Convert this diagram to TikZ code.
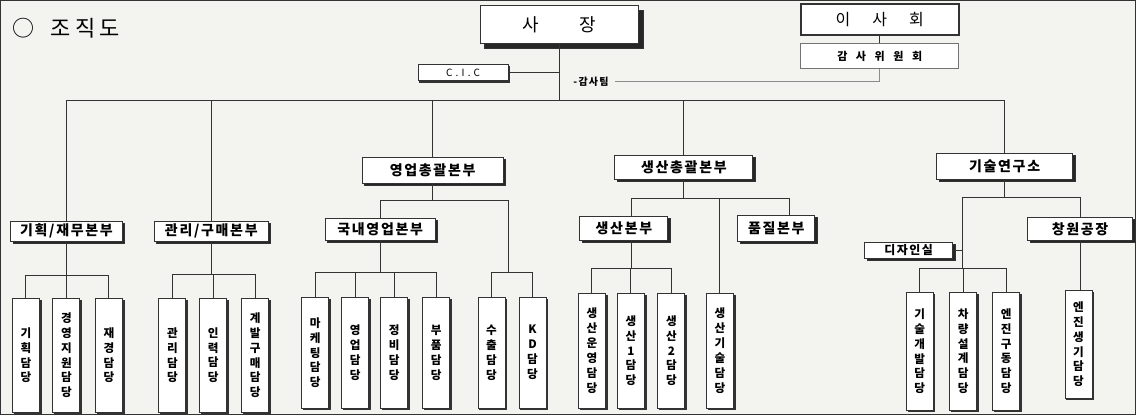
\documentclass[tikz,border=0pt]{standalone}
\usepackage{fontspec}
\setmainfont{Noto Sans CJK KR}[LetterSpace=12]
\usetikzlibrary{positioning, shadows}
\definecolor{paper}{RGB}{243,243,240}

\begin{document}
\begin{tikzpicture}[
    x=0.5pt, y=-0.5pt,
    line width=0.5pt,
    every path/.style={draw=black!80},
    frame/.style={draw=black!80, fill=white, inner sep=0pt},
    head/.style={frame, font=\fontsize{7}{8}\selectfont\bfseries,
      drop shadow={shadow xshift=1.3pt, shadow yshift=-1.3pt, opacity=1, fill=black!85}},
    duty/.style={frame, minimum width=13.5pt, align=center,
      font=\fontsize{5.8}{7.5}\selectfont\bfseries,
      drop shadow={shadow xshift=0.9pt, shadow yshift=-0.9pt, opacity=1, fill=black!80}},
  ]

  % paper
  \fill[paper, draw=none] (0,0) rectangle (1136,414);
  \useasboundingbox (0,0) rectangle (1136,414);

  \node[anchor=west, inner sep=0pt, font=\fontsize{11}{12}\selectfont] (title) at (12,28)
    {○\hspace{8pt}조\hspace{2pt}직\hspace{2pt}도};

  % top of the chart
  \node[frame, minimum width=79.5pt, minimum height=19pt, font=\fontsize{9}{10}\selectfont,
    drop shadow={shadow xshift=2.3pt, shadow yshift=-2.3pt, opacity=1, fill=black!85}]
    (ceo) at (559.5,24) {사\hspace{20pt}장};
  \node[frame, line width=1pt, minimum width=79pt, minimum height=15.5pt,
    font=\fontsize{8}{9}\selectfont] (board) at (880,19.5) {이\hspace{11pt}사\hspace{11pt}회};
  \node[frame, draw=black!55, minimum width=79pt, minimum height=12.5pt,
    font=\fontsize{5.5}{6}\selectfont\bfseries] (auditcom) at (880,55.5)
    {감\hspace{4.3pt}사\hspace{4.3pt}위\hspace{4.3pt}원\hspace{4.3pt}회};
  \node[frame, minimum width=45pt, minimum height=8pt, font=\fontsize{5}{6}\selectfont,
    drop shadow={shadow xshift=0.9pt, shadow yshift=-0.9pt, opacity=1, fill=black!80}]
    (cic) at (463,72) {C\hspace{1.6pt}.\hspace{1.6pt}I\hspace{1.6pt}.\hspace{1.6pt}C};
  \node[inner sep=0pt, font=\fontsize{5}{6}\selectfont\bfseries] (auditteam) at (591,81) {-감사팀};

  % second level
  \node[head, minimum width=56pt, minimum height=10pt] (plan) at (66,231) {기획/재무본부};
  \node[head, minimum width=57pt, minimum height=10pt] (admin) at (211,231) {관리/구매본부};
  \node[head, minimum width=70.5pt, minimum height=13pt] (sales) at (432.5,170) {영업총괄본부};
  \node[head, minimum width=69pt, minimum height=12pt] (prod) at (684,167) {생산총괄본부};
  \node[head, minimum width=68pt, minimum height=13pt] (tech) at (1005,166) {기술연구소};

  % third level
  \node[head, minimum width=55pt, minimum height=11pt] (domestic) at (380,229) {국내영업본부};
  \node[head, minimum width=44pt, minimum height=12pt] (prodhq) at (624,228) {생산본부};
  \node[head, minimum width=38.5pt, minimum height=13pt] (quality) at (776.5,228) {품질본부};
  \node[head, minimum width=52.5pt, minimum height=11.5pt] (changwon) at (1080.5,228.5) {창원공장};
  \node[head, minimum width=44pt, minimum height=8pt, font=\fontsize{6}{7}\selectfont\bfseries]
    (design) at (909,250) {디자인실};

  % duty boxes
  \foreach \nm/\cx/\txt in {plan1/25.5/{기\\획\\담\\당}, plan2/66/{경\\영\\지\\원\\담\\당},
      plan3/108.5/{재\\경\\담\\당}, admin1/172/{관\\리\\담\\당}, admin2/213/{인\\력\\담\\당},
      admin3/255/{계\\발\\구\\매\\담\\당}}
    \node[duty, minimum height=57pt] (\nm) at (\cx,355) {\txt};
  \foreach \nm/\cx/\txt in {dom1/315/{마\\케\\팅\\담\\당}, dom2/355/{영\\업\\담\\당},
      dom3/394/{정\\비\\담\\당}, dom4/436/{부\\품\\담\\당}, exp1/491.5/{수\\출\\담\\당},
      exp2/532.5/{K\\D\\담\\당}}
    \node[duty, minimum height=55.5pt] (\nm) at (\cx,352.5) {\txt};
  \foreach \nm/\cx/\txt in {hq1/592/{생\\산\\운\\영\\담\\당}, hq2/631/{생\\산\\1\\담\\당},
      hq3/671.5/{생\\산\\2\\담\\당}, ptech/720/{생\\산\\기\\술\\담\\당}}
    \node[duty, minimum height=57.5pt] (\nm) at (\cx,350.5) {\txt};
  \foreach \nm/\cx/\txt in {lab1/920/{기\\술\\개\\발\\담\\당}, lab2/963.5/{차\\량\\설\\계\\담\\당},
      lab3/1006.5/{엔\\진\\구\\동\\담\\당}}
    \node[duty, minimum height=59pt] (\nm) at (\cx,351) {\txt};
  \node[duty, minimum height=54pt] (engine) at (1079,344) {엔\\진\\생\\기\\담\\당};

  % bus lines
  \coordinate (mainbus) at (0,100);
  \coordinate (planbus) at (0,275);
  \coordinate (adminbus) at (0,274);
  \coordinate (salesbus) at (0,200);
  \coordinate (dombus) at (0,272);
  \coordinate (prodbus) at (0,198);
  \coordinate (hqbus) at (0,268);
  \coordinate (techbus) at (0,197);
  \coordinate (labbus) at (0,268);
  \coordinate (expjoin) at (508,272);
  \coordinate (labjoin) at (963,268);

  \draw (ceo.south) -- (ceo.south |- mainbus);
  \draw (cic.east) -- (cic.east -| ceo.south);
  \draw (board.south) -- (auditcom.north);
  \draw[draw=black!45] (auditcom.south) |- ([xshift=3pt]auditteam.east);
  \draw (plan.north |- mainbus) -- (tech.north |- mainbus);
  \foreach \nm in {plan,admin,sales,prod,tech}
    \draw (\nm.north) -- (\nm.north |- mainbus);

  % 기획/재무, 관리/구매
  \draw (plan.south) -- (plan.south |- planbus);
  \draw (plan1.north |- planbus) -- (plan3.north |- planbus);
  \foreach \nm in {plan1,plan2,plan3}
    \draw (\nm.north) -- (\nm.north |- planbus);
  \draw (admin.south) -- (admin.south |- adminbus);
  \draw (admin1.north |- adminbus) -- (admin3.north |- adminbus);
  \foreach \nm in {admin1,admin2,admin3}
    \draw (\nm.north) -- (\nm.north |- adminbus);

  % 영업
  \draw (sales.south) -- (sales.south |- salesbus);
  \draw (domestic.north) -- (domestic.north |- salesbus) -- (expjoin |- salesbus) -- (expjoin);
  \draw (domestic.south) -- (domestic.south |- dombus);
  \draw (dom1.north |- dombus) -- (dom4.north |- dombus);
  \foreach \nm in {dom1,dom2,dom3,dom4}
    \draw (\nm.north) -- (\nm.north |- dombus);
  \draw (exp1.north) |- (expjoin) -| (exp2.north);

  % 생산
  \draw (prod.south) -- (prod.south |- prodbus);
  \draw ([xshift=4pt]prodhq.north) -- ([xshift=4pt]prodhq.north |- prodbus)
    -- ([xshift=6.5pt]quality.north |- prodbus) -- ([xshift=6.5pt]quality.north);
  \draw (ptech.north) -- (ptech.north |- prodbus);
  \draw ([xshift=4pt]prodhq.south) -- ([xshift=4pt]prodhq.south |- hqbus);
  \draw (hq1.north |- hqbus) -- (hq3.north |- hqbus);
  \foreach \nm in {hq1,hq2,hq3}
    \draw (\nm.north) -- (\nm.north |- hqbus);

  % 기술연구소
  \draw (tech.south) -- (tech.south |- techbus);
  \draw (labjoin) -- (labjoin |- techbus) -- (changwon.north |- techbus) -- (changwon.north);
  \draw (design.east) -- (design.east -| labjoin);
  \draw (lab1.north |- labbus) -- (lab3.north |- labbus);
  \foreach \nm in {lab1,lab2,lab3}
    \draw (\nm.north) -- (\nm.north |- labbus);
  \draw (changwon.south) -- (changwon.south |- engine.north);

\end{tikzpicture}
\end{document}
